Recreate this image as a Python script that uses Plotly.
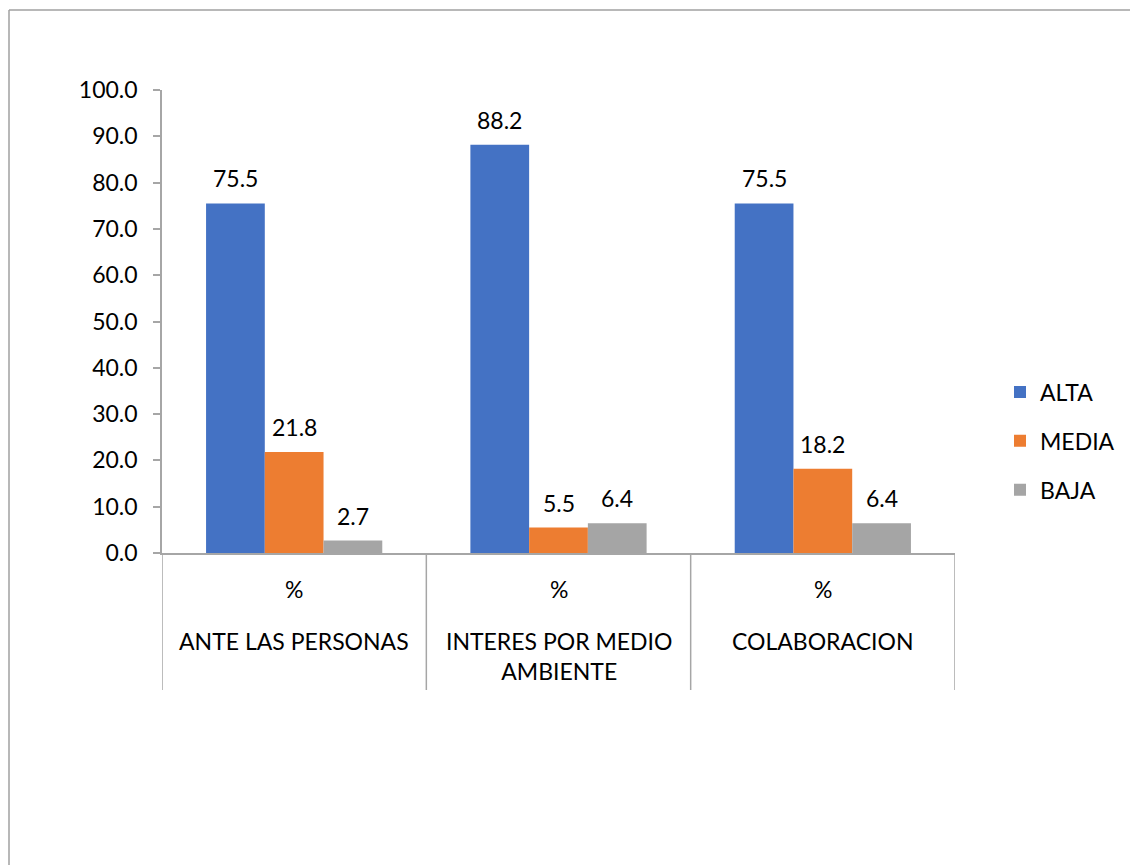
import plotly.graph_objects as go

# Data
categories = ["ANTE LAS PERSONAS", "INTERES POR MEDIO<br>AMBIENTE", "COLABORACION"]
sub_label = "%"
series_names = ["ALTA", "MEDIA", "BAJA"]
alta = [75.5, 88.2, 75.5]
media = [21.8, 5.5, 18.2]
baja = [2.7, 6.4, 6.4]
y_ticks = [0, 10, 20, 30, 40, 50, 60, 70, 80, 90, 100]

colors = ["#4472C4", "#ED7D31", "#A5A5A5"]
FONT = "Lato, Liberation Sans, sans-serif"
FS = 23
W, H = 1130, 865
L, R, T, B = 162, 175, 90, 312
plot_w = W - L - R
plot_h = H - T - B


def px_to_paper_x(px):
    return (px - L) / plot_w


def px_to_paper_y(py):
    return (H - B - py) / plot_h


xs = list(range(len(categories)))
series = [alta, media, baja]
bargap = 1 / 3
bar_w = (1 - bargap) / len(series)

fig = go.Figure()
for i, (name, vals) in enumerate(zip(series_names, series)):
    fig.add_trace(go.Bar(
        x=xs, y=vals, name=name, marker=dict(color=colors[i], line=dict(width=0)),
        legendgroup=name,
    ))
    # value labels above each bar
    offset = (i - (len(series) - 1) / 2) * bar_w
    for xi, v in zip(xs, vals):
        fig.add_annotation(x=xi + offset, y=v, text=f"{v:.1f}", showarrow=False,
                           xref="x", yref="y", yanchor="bottom", yshift=9,
                           font=dict(family=FONT, size=FS, color="#000000"))

shapes = []
grey = "#A6A6A6"
# category separators below the axis
for k in range(len(categories) + 1):
    shapes.append(dict(type="line", xref="x", yref="paper",
                       x0=k - 0.5, x1=k - 0.5, y0=0, y1=px_to_paper_y(690),
                       line=dict(color=grey, width=1.5)))
# outer frame (top and left edges)
shapes.append(dict(type="line", xref="paper", yref="paper",
                   x0=px_to_paper_x(9), x1=px_to_paper_x(1135),
                   y0=px_to_paper_y(10), y1=px_to_paper_y(10),
                   line=dict(color="#A0A0A0", width=1.5)))
shapes.append(dict(type="line", xref="paper", yref="paper",
                   x0=px_to_paper_x(9), x1=px_to_paper_x(9),
                   y0=px_to_paper_y(10), y1=px_to_paper_y(870),
                   line=dict(color="#A0A0A0", width=1.5)))

# two-level category labels
for xi, cat in zip(xs, categories):
    fig.add_annotation(x=xi, y=px_to_paper_y(589), xref="x", yref="paper",
                       text=sub_label, showarrow=False, yanchor="middle",
                       font=dict(family=FONT, size=FS, color="#000000"))
    fig.add_annotation(x=xi, y=px_to_paper_y(625), xref="x", yref="paper",
                       text=cat, showarrow=False, yanchor="top",
                       font=dict(family=FONT, size=FS, color="#000000"))

fig.update_layout(
    width=W, height=H,
    margin=dict(l=L, r=R, t=T, b=B, pad=0, autoexpand=False),
    paper_bgcolor="white", plot_bgcolor="white",
    barmode="group", bargap=bargap, bargroupgap=0,
    font=dict(family=FONT, size=FS, color="#000000"),
    shapes=shapes,
    showlegend=True,
    legend=dict(x=px_to_paper_x(1000), y=px_to_paper_y(441), xanchor="left", yanchor="middle",
                font=dict(family=FONT, size=FS, color="#000000"),
                tracegroupgap=16, itemwidth=30, bgcolor="rgba(0,0,0,0)"),
    xaxis=dict(range=[-0.5, 2.5], showticklabels=False, showgrid=False, zeroline=False,
               showline=True, linecolor=grey, linewidth=1.5, ticks="", fixedrange=True),
    yaxis=dict(range=[0, 100], tickvals=y_ticks, tickformat=".1f",
               showgrid=False, zeroline=False, showline=True, linecolor=grey, linewidth=1.5,
               ticks="outside", ticklen=7, tickcolor=grey, tickwidth=1.5,
               ticklabelstandoff=11,
               tickfont=dict(family=FONT, size=FS, color="#000000")),
)

fig.write_html("out.html")
